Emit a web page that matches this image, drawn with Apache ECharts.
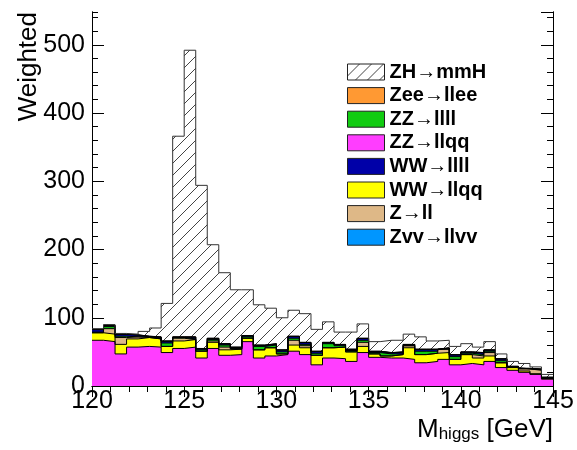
<!DOCTYPE html>
<html>
<head>
<meta charset="utf-8">
<script src="https://cdn.jsdelivr.net/npm/echarts@6/dist/echarts.min.js"></script>
<style>
  html, body { margin: 0; padding: 0; background: #fff; }
  #main { width: 577px; height: 450px; }
</style>
</head>
<body>
<div id="main"></div>
<script>
// bin edges of M_higgs histogram (40 bins, 120-145 GeV)
const binEdges = [120, 120.625, 121.25, 121.875, 122.5, 123.125, 123.75, 124.375, 125, 125.625,
  126.25, 126.875, 127.5, 128.125, 128.75, 129.375, 130, 130.625, 131.25, 131.875,
  132.5, 133.125, 133.75, 134.375, 135, 135.625, 136.25, 136.875, 137.5, 138.125,
  138.75, 139.375, 140, 140.625, 141.25, 141.875, 142.5, 143.125, 143.75, 144.375, 145];

// stack contents, bottom to top
const zzllqq = [67, 65, 47, 57, 58, 57, 49, 55, 57, 41, 55, 45, 46, 65, 41, 44, 46, 51, 46, 31,
  41, 40, 36, 49, 42, 41, 41, 39, 34, 36, 39, 31, 33, 31, 36, 27, 23, 20, 17, 10];
const wwllqq = [11, 11, 14, 12, 13, 12, 9, 11, 11, 10, 9, 8, 8, 5, 12, 12, 1, 9, 10, 14,
  15, 17, 14, 9, 5, 3, 5, 17, 12, 12, 10, 8, 13, 10, 8, 7, 4, 2, 1, 1];
const zll = [0, 8, 10, 3, 0, 0, 0, 4, 0, 0, 2, 4, 0, 0, 0, 0, 0, 7, 3, 0,
  0, 0, 0, 6, 0, 0, 0, 3, 0, 0, 5, 0, 0, 3, 5, 0, 0, 3, 5, 0];
const zzllll = [1, 3, 2, 0, 1, 1, 5, 1, 1, 2, 2, 3, 1, 2, 5, 4, 3, 3, 2, 3,
  6, 2, 2, 3, 2, 3, 1, 0, 5, 3, 0, 4, 2, 2, 2, 3, 1, 0, 1, 1];
const wwllll = [3.5, 1.5, 2.5, 2.5, 0.5, 1.5, 2.5, 0.5, 2.5, 1.5, 1.5, 1.5, 1.5, 1.5, 1.5, 1.5, 2.5, 2.5, 2.5, 2.5,
  1.5, 1.5, 1.5, 2.5, 1.5, 1.5, 2.5, 1.5, 2.5, 2.5, 1.5, 2.5, 1.5, 2.5, 1.5, 2.5, 0.5, 0.5, 0.5, 0.5];
const zvvllvv = [0.3, 0.3, 0.3, 0.3, 0.3, 0.3, 0.3, 0.3, 0.3, 0.3, 0.3, 0.3, 0.3, 0.3, 0.3, 0.3, 0.3, 0.3, 0.3, 0.3,
  0.3, 0.3, 0.3, 0.3, 0.3, 0.3, 0.3, 0.3, 0.3, 0.3, 0.3, 0.3, 0.3, 0.3, 0.3, 0.3, 0.2, 0.2, 0.2, 0.2];
const zeellee = [0.2, 0.2, 0.2, 0.2, 0.2, 0.2, 0.2, 0.2, 0.2, 0.2, 0.2, 0.2, 0.2, 0.2, 0.2, 0.2, 0.2, 0.2, 0.2, 0.2,
  0.2, 0.2, 0.2, 0.2, 0.2, 0.2, 0.2, 0.2, 0.2, 0.2, 0.2, 0.2, 0.2, 0.2, 0.2, 0.2, 0.3, 0.3, 0.3, 0.3];
const zhmmh = [1, 1, 1, 1, 7, 13, 55, 294, 420, 239, 137, 104, 84, 67, 59, 52, 47, 38, 42, 32,
  30, 18, 25, 21, 14, 18, 17, 15, 18, 12, 11, 12, 12, 8, 12, 7, 7, 7, 3, 4];

const legendNames = ["ZH→mmH", "Zee→llee", "ZZ→llll", "ZZ→llqq", "WW→llll", "WW→llqq", "Z→ll", "Zvv→llvv"];

const FONT = "Liberation Sans";

// hatch pattern for the signal
const hatch = document.createElement("canvas");
hatch.width = 12; hatch.height = 12;
const hc = hatch.getContext("2d");
hc.fillStyle = "#fff";
hc.fillRect(0, 0, 12, 12);
hc.strokeStyle = "#444";
hc.lineWidth = 1;
hc.beginPath();
hc.moveTo(0, 12); hc.lineTo(12, 0);
hc.moveTo(-1, 1); hc.lineTo(1, -1);
hc.moveTo(11, 13); hc.lineTo(13, 11);
hc.stroke();
const hatchFill = { image: hatch, repeat: "repeat" };

// stack order bottom -> top
const layers = [
  { name: "ZZ→llqq", data: zzllqq, color: "#ff3dff" },
  { name: "WW→llqq", data: wwllqq, color: "#ffff00" },
  { name: "Z→ll", data: zll, color: "#deb887" },
  { name: "ZZ→llll", data: zzllll, color: "#11cc11" },
  { name: "WW→llll", data: wwllll, color: "#0000a8" },
  { name: "Zvv→llvv", data: zvvllvv, color: "#0096ff" },
  { name: "Zee→llee", data: zeellee, color: "#ff9933" },
  { name: "ZH→mmH", data: zhmmh, color: hatchFill, line: "#333" }
];

// running totals (THStack style)
let running = binEdges.slice(0, -1).map(() => 0);
layers.forEach(l => {
  running = running.map((v, i) => v + l.data[i]);
  l.total = running;
});

function steps(vals) {
  return binEdges.map((x, i) => [x, vals[Math.min(i, vals.length - 1)]]);
}

// draw from the top of the stack down so lower layers cover the upper fills
const series = [];
layers.slice().reverse().forEach(l => {
  series.push({
    name: l.name, type: "line", step: "end", symbol: "none",
    data: steps(l.total), z: 2,
    itemStyle: { color: l.color },
    lineStyle: { width: 0 },
    areaStyle: { color: l.color, opacity: 1, origin: "start" }
  });
});
layers.forEach(l => {
  series.push({
    name: l.name + " outline", type: "line", step: "end", symbol: "none",
    data: steps(l.total), z: 3, silent: true,
    lineStyle: { color: l.line || "#000", width: 1 }
  });
});

const colorOf = {};
layers.forEach(l => { colorOf[l.name] = l.color; });

function xAx(pos, labels) {
  return {
    type: "value", position: pos, min: 120, max: 145, interval: 5,
    axisLine: { show: true, lineStyle: { color: "#000", width: 1 } },
    axisTick: { show: true, inside: true, length: 11, lineStyle: { color: "#000" } },
    minorTick: { show: true, splitNumber: 5, length: 6, lineStyle: { color: "#000" } },
    axisLabel: { show: labels, margin: 3, fontFamily: FONT, fontSize: 25, color: "#000" },
    splitLine: { show: false }
  };
}
function yAx(pos, step, tickLen, labels) {
  return {
    type: "value", position: pos, min: 0, max: 548, interval: step,
    axisLine: { show: true, lineStyle: { color: "#000", width: 1 } },
    axisTick: { show: true, inside: true, length: tickLen, lineStyle: { color: "#000" } },
    axisLabel: { show: labels, margin: 7, showMaxLabel: false, fontFamily: FONT, fontSize: 25, color: "#000" },
    splitLine: { show: false }
  };
}

const chart = echarts.init(document.getElementById("main"), null, { renderer: "canvas" });
chart.setOption({
  animation: false,
  backgroundColor: "#fff",
  grid: { left: 92, right: 24, top: 12, bottom: 64, outerBoundsMode: "none" },
  xAxis: [xAx("bottom", true), xAx("top", false)],
  yAxis: [yAx("left", 100, 12, true), yAx("left", 20, 6, false),
          yAx("right", 100, 12, false), yAx("right", 20, 6, false)],
  legend: {
    orient: "vertical", left: 347, top: 62, padding: 0, itemWidth: 37, itemHeight: 16, itemGap: 3.6,
    icon: "rect", selectedMode: false,
    textStyle: { fontFamily: FONT, fontWeight: "bold", fontSize: 20, lineHeight: 20, color: "#000" },
    data: legendNames.map(n => ({ name: n, itemStyle: { color: colorOf[n], borderColor: "#222", borderWidth: 1 } }))
  },
  graphic: [
    {
      type: "text", x: 42, y: 12, rotation: Math.PI / 2,
      style: { text: "Weighted", fontFamily: FONT, fontSize: 26, fill: "#000", align: "right", verticalAlign: "bottom" }
    },
    {
      type: "text", right: 24, top: 417,
      style: {
        text: "M{s|higgs} [GeV]", fontFamily: FONT, fontSize: 26, fill: "#000",
        rich: { s: { fontFamily: FONT, fontSize: 17, fill: "#000", verticalAlign: "bottom", padding: [7, 0, 0, 0] } }
      }
    }
  ],
  series: series
});
</script>
</body>
</html>
